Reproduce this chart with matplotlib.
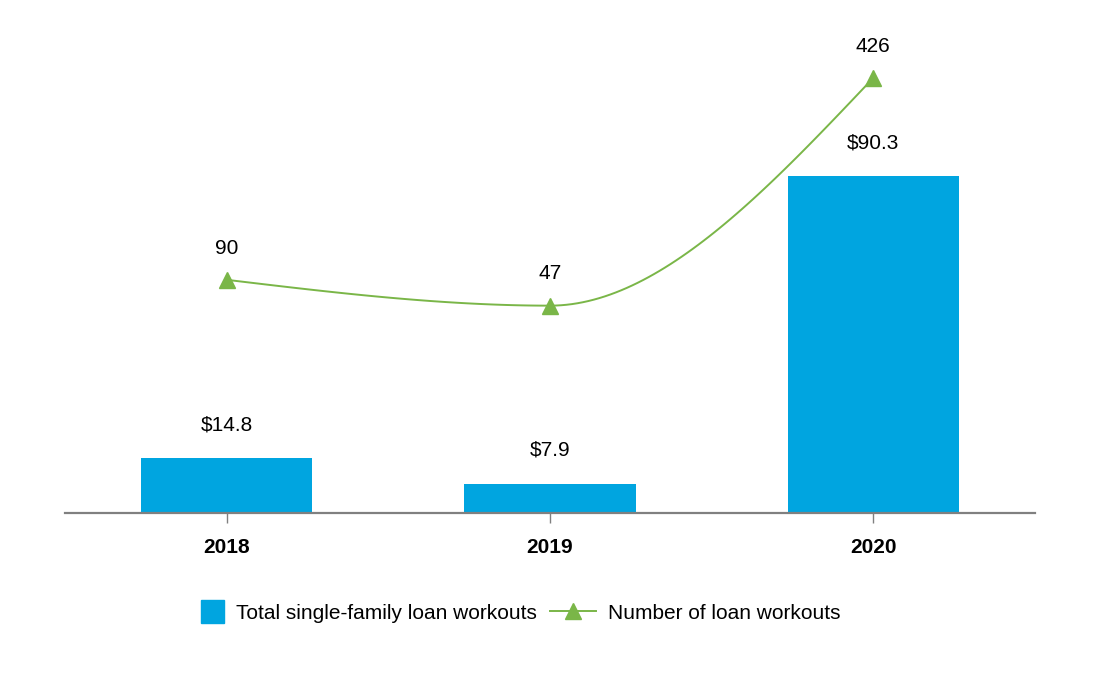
import matplotlib.pyplot as plt
from matplotlib import font_manager
from matplotlib.lines import Line2D
from matplotlib.patches import Patch, Rectangle
from matplotlib.legend_handler import HandlerPatch
import numpy as np

# Data
years = ['2018', '2019', '2020']
volume = [14.8, 7.9, 90.3]       # $ billions, bars
counts = [90, 47, 426]           # thousands of workouts, line

bar_color = '#00A5E0'
line_color = '#7AB648'

names = {f.name for f in font_manager.fontManager.ttflist}
base_font = 'Liberation Sans Narrow' if 'Liberation Sans Narrow' in names else 'Liberation Sans'
plt.rcParams['font.family'] = [base_font, 'DejaVu Sans']


def monotone_curve(x, y, n=60):
    # monotone cubic (Steffen style) smoothing through the points
    x = np.asarray(x, float)
    y = np.asarray(y, float)
    h = np.diff(x)
    s = np.diff(y) / h
    t = np.zeros(len(x))
    for i in range(1, len(x) - 1):
        if s[i - 1] * s[i] > 0:
            p = (s[i - 1] * h[i] + s[i] * h[i - 1]) / (h[i - 1] + h[i])
            t[i] = (np.sign(s[i - 1]) + np.sign(s[i])) * min(abs(s[i - 1]), abs(s[i]), 0.5 * abs(p))
    t[0] = (3 * s[0] - t[1]) / 2
    t[-1] = (3 * s[-1] - t[-2]) / 2
    xs, ys = [], []
    for i in range(len(x) - 1):
        u = np.linspace(0, 1, n)
        h00 = 2 * u**3 - 3 * u**2 + 1
        h10 = u**3 - 2 * u**2 + u
        h01 = -2 * u**3 + 3 * u**2
        h11 = u**3 - u**2
        xs.append(x[i] + u * h[i])
        ys.append(h00 * y[i] + h10 * h[i] * t[i] + h01 * y[i + 1] + h11 * h[i] * t[i + 1])
    return np.concatenate(xs), np.concatenate(ys)


def square_patch(legend, orig_handle, xdescent, ydescent, width, height, fontsize):
    s = 16.5
    return Rectangle((width - s - xdescent, height / 2 - s / 2 - ydescent), s, s)


fig = plt.figure(figsize=(11, 7), dpi=100)
ax = fig.add_axes([65 / 1100, 187 / 700, 970 / 1100, 473 / 700])
ax2 = ax.twinx()

xpos = np.arange(len(years))
ax.bar(xpos, volume, width=0.53, color=bar_color, zorder=2)
for xi, v in zip(xpos, volume):
    ax.annotate(f'${v}', (xi, v), xytext=(0, 17), textcoords='offset points',
                ha='center', va='bottom', fontsize=15)

cx, cy = monotone_curve(xpos, counts)
ax2.plot(cx, cy, color=line_color, lw=1.4, zorder=3)
ax2.plot(xpos, counts, ls='none', marker='^', ms=11, color=line_color, zorder=4)
for xi, c in zip(xpos, counts):
    ax2.annotate(f'{c}', (xi, c), xytext=(0, 16), textcoords='offset points',
                 ha='center', va='bottom', fontsize=15)

ax.set_xlim(-0.5, 2.5)
ax.set_ylim(0, 126.8)
ax2.set_ylim(-298, 489)

for a in (ax, ax2):
    for side in ['top', 'right', 'left']:
        a.spines[side].set_visible(False)
    a.set_yticks([])
ax2.spines['bottom'].set_visible(False)
ax.spines['bottom'].set_color('#808080')
ax.spines['bottom'].set_linewidth(1.6)
ax.set_xticks(xpos)
ax.set_xticklabels(years, fontsize=15, fontweight='bold')
ax.tick_params(axis='x', length=7, width=1, color='#808080', pad=11)

# legend
handles = [Patch(color=bar_color),
           Line2D([], [], color=line_color, lw=1.4, marker='^', ms=11)]
fig.legend(handles, ['Total single-family loan workouts', 'Number of loan workouts'],
           handler_map={Patch: HandlerPatch(patch_func=square_patch)},
           loc='center', bbox_to_anchor=(0.463, 0.124), ncol=2, frameon=False,
           fontsize=15, handlelength=2.2, handletextpad=0.6, columnspacing=0.6)

fig.savefig('out.png', dpi=100, facecolor='white')
